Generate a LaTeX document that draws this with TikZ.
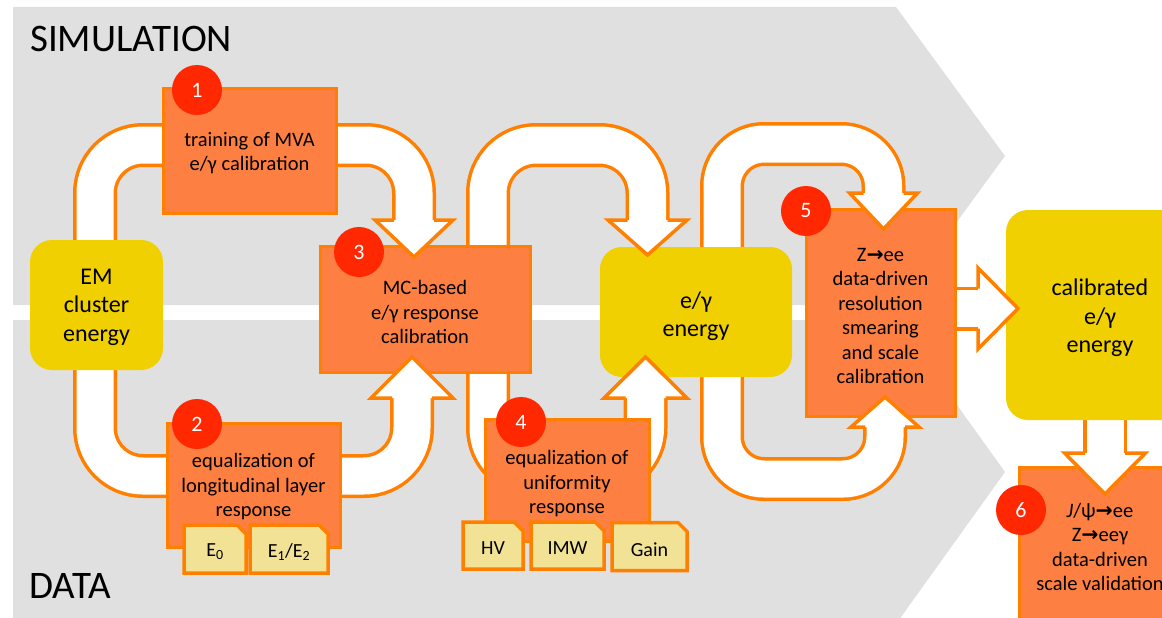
\documentclass[tikz,border=0pt]{standalone}
\usepackage{fontspec}
\setmainfont{Carlito}
\newfontfamily\arrfont{DejaVu Sans}
\definecolor{bandgray}{RGB}{224,224,224}
\definecolor{boxorange}{RGB}{253,127,66}
\definecolor{lineorange}{RGB}{255,128,0}
\definecolor{eyellow}{RGB}{240,208,0}
\definecolor{badgered}{RGB}{255,40,0}
\definecolor{tabyellow}{RGB}{242,226,150}
\newcommand\pipeline[2]{%
  \draw[pipeouter, rounded corners=#1] #2;
  \draw[pipeinner, rounded corners=#1] #2;}
\newcommand\vhead[4]{%
  \filldraw[head] ({#1-20},#2) -- ({#1-#3},#2) -- (#1,#4) -- ({#1+#3},#2) -- ({#1+20},#2);}
\newcommand\hhead[4]{%
  \filldraw[head] (#2,{#1-20}) -- (#2,{#1-#3}) -- (#4,#1) -- (#2,{#1+#3}) -- (#2,{#1+20});}
\newcommand\mytab[6]{%
  \filldraw[tabshape] ({#2-#4/2},{#3-#5/2}) -- ({#2+#4/2-9},{#3-#5/2}) -- ({#2+#4/2},{#3-#5/2+9})
     -- ({#2+#4/2},{#3+#5/2}) -- ({#2-#4/2},{#3+#5/2}) -- cycle;
  \node[tabtext] (#1) at (#2,{#3+3}) {#6};}
\newcommand\arr{{\arrfont\bfseries →}}
\begin{document}
\begin{tikzpicture}[x=1pt,y=-1pt,
  title/.style={font=\fontsize{39}{39}\selectfont, anchor=base west, inner sep=0pt},
  obox/.style={rectangle, draw=lineorange, fill=boxorange, line width=3pt, inner sep=0pt},
  ybox/.style={rectangle, fill=eyellow, rounded corners=22pt, inner sep=0pt},
  btext/.style={align=center, font=\fontsize{20.5}{24.5}\selectfont, inner sep=0pt},
  ytext/.style={align=center, font=\fontsize{24}{28.5}\selectfont, inner sep=0pt},
  badge/.style={circle, fill=badgered, minimum size=50pt, inner sep=0pt, text=white, font=\fontsize{22}{22}\selectfont},
  pipeouter/.style={draw=lineorange, line width=44pt},
  pipeinner/.style={draw=white, line width=37pt},
  head/.style={fill=white, draw=lineorange, line width=3.5pt},
  tabshape/.style={fill=tabyellow, draw=lineorange, line width=3.5pt},
  tabtext/.style={font=\fontsize{20}{20}\selectfont, inner sep=0pt},
]
\useasboundingbox (0,0) rectangle (1162,618);
\fill[white] (0,0) rectangle (1162,618);
% bands
\fill[bandgray] (13,7) -- (896,7) -- (1005,156) -- (896,305) -- (13,305) -- cycle;
\fill[bandgray] (13,320) -- (896,320) -- (1005,472) -- (896,624) -- (13,624) -- cycle;
\node[title] (sim) at (30,52) {SIMULATION};
\node[title] (data) at (29,598) {DATA};
% pipe shafts
\pipeline{48pt}{(95,250) -- (95,145) -- (414,145) -- (414,220)}
\pipeline{48pt}{(95,360) -- (95,476) -- (412,476) -- (412,398)}
\pipeline{48pt}{(488,256) -- (488,145) -- (647.5,145) -- (647.5,220)}
\pipeline{48pt}{(488,362) -- (488,476) -- (645.5,476) -- (645.5,398)}
\pipeline{42pt}{(722,257) -- (722,144) -- (883.5,144) -- (883.5,193)}
\pipeline{42pt}{(722,367) -- (722,479) -- (885,479) -- (885,427)}
\pipeline{0pt}{(950,308.5) -- (978,308.5)}
\pipeline{0pt}{(1105,415) -- (1105,453)}
% boxes
\node[obox, minimum width=173pt, minimum height=125pt] (b1) at (249.5,150.5) {};
\node[ybox, minimum width=133pt, minimum height=130pt] (em) at (96.5,305) {};
\node[obox, minimum width=210pt, minimum height=126pt] (b3) at (425,309) {};
\node[obox, minimum width=173pt, minimum height=124pt] (b2) at (253.5,485) {};
\node[obox, minimum width=164pt, minimum height=122pt] (b4) at (567,480) {};
\node[ybox, minimum width=192pt, minimum height=130pt] (ey) at (696,312) {};
\node[obox, minimum width=149pt, minimum height=207pt] (b5) at (880.5,312.5) {};
\node[ybox, minimum width=189pt, minimum height=210pt] (cal) at (1100.5,315) {};
\node[obox, minimum width=162pt, minimum height=173pt] (b6) at (1100,553.5) {};
% texts
\node[btext] (b1t) at (249.5,153) {training of MVA\\e/γ calibration};
\node[ytext] (emt) at (96.5,307) {EM\\cluster\\energy};
\node[btext] (b3t) at (425,312) {MC-based\\e/γ response\\calibration};
\node[btext] (b2t) at (253.5,487) {equalization of\\longitudinal layer\\response};
\node[btext] (b4t) at (567,484) {equalization of\\uniformity\\response};
\node[ytext] (eyt) at (696,316) {e/γ\\energy};
\node[btext] (b5t) at (880.5,316) {Z\arr ee\\data-driven\\resolution\\smearing\\and scale\\calibration};
\node[ytext] (calt) at (1100,318) {calibrated\\e/γ\\energy};
\node[btext] (b6t) at (1100,547) {\textit{J}/ψ\arr ee\\Z\arr eeγ\\data-driven\\scale validation};
% heads
\vhead{414}{220}{39}{257}
\vhead{412}{398}{41}{357}
\vhead{647.5}{220}{39.5}{255}
\vhead{645.5}{398}{41.5}{357}
\vhead{883.5}{193}{34}{229}
\vhead{885}{427}{34}{397}
\hhead{308.5}{978}{40.5}{1018}
\vhead{1105}{453}{40.5}{494}
% tabs
\mytab{t0}{215}{549}{62}{48}{E\textsubscript{0}}
\mytab{t12}{289}{549}{78}{48}{E\textsubscript{1}/E\textsubscript{2}}
\mytab{thv}{493}{545.5}{60}{47}{HV}
\mytab{timw}{567.5}{545.5}{73}{47}{IMW}
\mytab{tgain}{649.5}{546.5}{75}{48}{Gain}
% badges
\node[badge] (n1) at (197,90) {1};
\node[badge] (n2) at (197,424) {2};
\node[badge] (n3) at (359,252) {3};
\node[badge] (n4) at (521,422) {4};
\node[badge] (n5) at (806,211) {5};
\node[badge] (n6) at (1021,510) {6};
\end{tikzpicture}
\end{document}
